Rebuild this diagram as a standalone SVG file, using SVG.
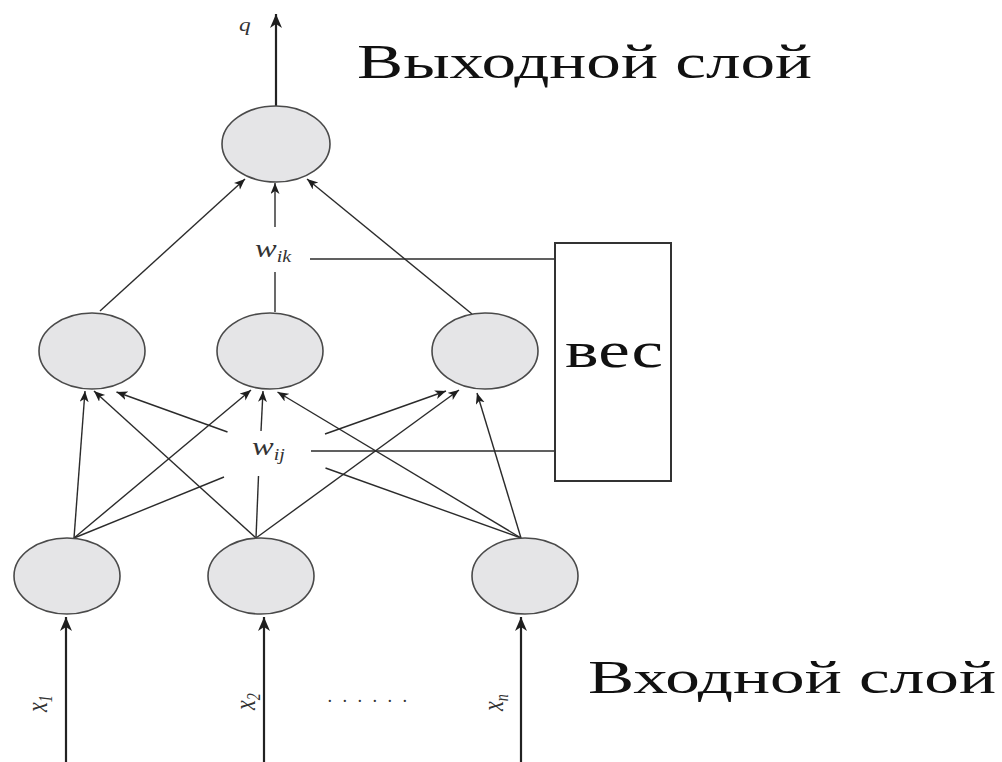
<svg xmlns="http://www.w3.org/2000/svg" width="1002" height="762" viewBox="0 0 1002 762">
  <style>
    .node { fill: #e5e5e7; stroke: #4a4a4a; stroke-width: 1.6; }
    .edge { stroke: #2b2b2b; stroke-width: 1.4; fill: none; }
    .io { stroke: #222; stroke-width: 2.2; fill: none; }
    .title { font-family: "Liberation Serif", "Times New Roman", serif; fill: #111; }
    .var { font-family: "Liberation Serif", "Times New Roman", serif; font-style: italic; fill: #333; }
    .box { fill: #fff; stroke: #333; stroke-width: 2; }
  </style>
  <defs>
    <marker id="ah" markerUnits="userSpaceOnUse" markerWidth="12" markerHeight="10" refX="11" refY="4.5" orient="auto">
      <path d="M0,0 L11,4.5 L0,9 L3,4.5 z" fill="#1e1e1e"/>
    </marker>
    <marker id="ahBig" markerUnits="userSpaceOnUse" markerWidth="15" markerHeight="13" refX="14" refY="6" orient="auto">
      <path d="M0,0 L14,6 L0,12 L4,6 z" fill="#1e1e1e"/>
    </marker>
  </defs>

  <rect width="1002" height="762" fill="#fff"/>

  <!-- connectors -->
  <g id="connectors">
    <!-- input signals -->
    <line class="io" x1="66" y1="762" x2="66" y2="617" marker-end="url(#ahBig)"/>
    <line class="io" x1="264" y1="762" x2="264" y2="617" marker-end="url(#ahBig)"/>
    <line class="io" x1="521" y1="762" x2="521" y2="617" marker-end="url(#ahBig)"/>
    <!-- output signal -->
    <line class="io" x1="276" y1="106" x2="276" y2="14" marker-end="url(#ahBig)"/>

    <!-- input layer to hidden layer -->
    <line class="edge" x1="74" y1="538" x2="85" y2="391" marker-end="url(#ah)"/>
    <line class="edge" x1="74" y1="538" x2="251" y2="390" marker-end="url(#ah)"/>
    <line class="edge" x1="74" y1="538" x2="224" y2="477"/>
    <line class="edge" x1="325" y1="434" x2="446" y2="391" marker-end="url(#ah)"/>

    <line class="edge" x1="256" y1="538" x2="94" y2="391" marker-end="url(#ah)"/>
    <line class="edge" x1="256" y1="538" x2="258.5" y2="476"/>
    <line class="edge" x1="261" y1="431" x2="263" y2="391" marker-end="url(#ah)"/>
    <line class="edge" x1="256" y1="538" x2="459" y2="390" marker-end="url(#ah)"/>

    <line class="edge" x1="521" y1="538" x2="325.5" y2="468"/>
    <line class="edge" x1="227.5" y1="432" x2="116.5" y2="392" marker-end="url(#ah)"/>
    <line class="edge" x1="521" y1="538" x2="277.5" y2="392" marker-end="url(#ah)"/>
    <line class="edge" x1="521" y1="538" x2="477" y2="393" marker-end="url(#ah)"/>

    <!-- hidden layer to output layer -->
    <line class="edge" x1="100" y1="311" x2="245" y2="179" marker-end="url(#ah)"/>
    <line class="edge" x1="275" y1="312" x2="275" y2="272"/>
    <line class="edge" x1="275" y1="227" x2="275" y2="183" marker-end="url(#ah)"/>
    <line class="edge" x1="472" y1="314" x2="307" y2="179" marker-end="url(#ah)"/>

    <!-- weight leaders -->
    <line class="edge" x1="310" y1="259" x2="555" y2="259"/>
    <line class="edge" x1="311" y1="451" x2="555" y2="451"/>
  </g>

  <!-- output layer -->
  <g id="out1"><ellipse class="node" cx="276" cy="144" rx="54" ry="38"/></g>

  <!-- hidden layer -->
  <g id="hid1"><ellipse class="node" cx="92" cy="351" rx="53" ry="38"/></g>
  <g id="hid2"><ellipse class="node" cx="270" cy="351" rx="53" ry="38"/></g>
  <g id="hid3"><ellipse class="node" cx="485" cy="351" rx="53" ry="38"/></g>

  <!-- input layer -->
  <g id="in1"><ellipse class="node" cx="67" cy="576" rx="53" ry="38"/></g>
  <g id="in2"><ellipse class="node" cx="261" cy="576" rx="53" ry="38"/></g>
  <g id="in3"><ellipse class="node" cx="525" cy="576" rx="53" ry="38"/></g>

  <!-- weights box -->
  <g id="weights">
    <rect class="box" x="555" y="243" width="116" height="238"/>
    <text class="title" x="565" y="367" font-size="50" textLength="98" lengthAdjust="spacingAndGlyphs">вес</text>
  </g>

  <!-- layer captions -->
  <text class="title" x="357" y="78" font-size="48" textLength="455" lengthAdjust="spacingAndGlyphs">Выходной слой</text>
  <text class="title" x="588" y="693" font-size="46" textLength="408" lengthAdjust="spacingAndGlyphs">Входной слой</text>

  <!-- variable labels -->
  <g transform="translate(239,31) scale(1.3,1)"><text class="var" font-size="18">q</text></g>
  <g transform="translate(255,257) scale(1.25,1)"><text class="var" font-size="26">w<tspan font-size="16" dy="5">ik</tspan></text></g>
  <g transform="translate(252,455) scale(1.25,1)"><text class="var" font-size="26">w<tspan font-size="16" dy="5">ij</tspan></text></g>

  <g transform="translate(47,712) scale(1.35,1) rotate(-90)"><text class="var" font-size="22">x<tspan font-size="14" dy="4">1</tspan></text></g>
  <g transform="translate(255,710) scale(1.35,1) rotate(-90)"><text class="var" font-size="22">x<tspan font-size="14" dy="4">2</tspan></text></g>
  <g transform="translate(503,711) scale(1.35,1) rotate(-90)"><text class="var" font-size="22">x<tspan font-size="14" dy="4">n</tspan></text></g>

  <text class="var" x="328" y="702" font-size="18" font-style="normal" letter-spacing="10.5">......</text>
</svg>
